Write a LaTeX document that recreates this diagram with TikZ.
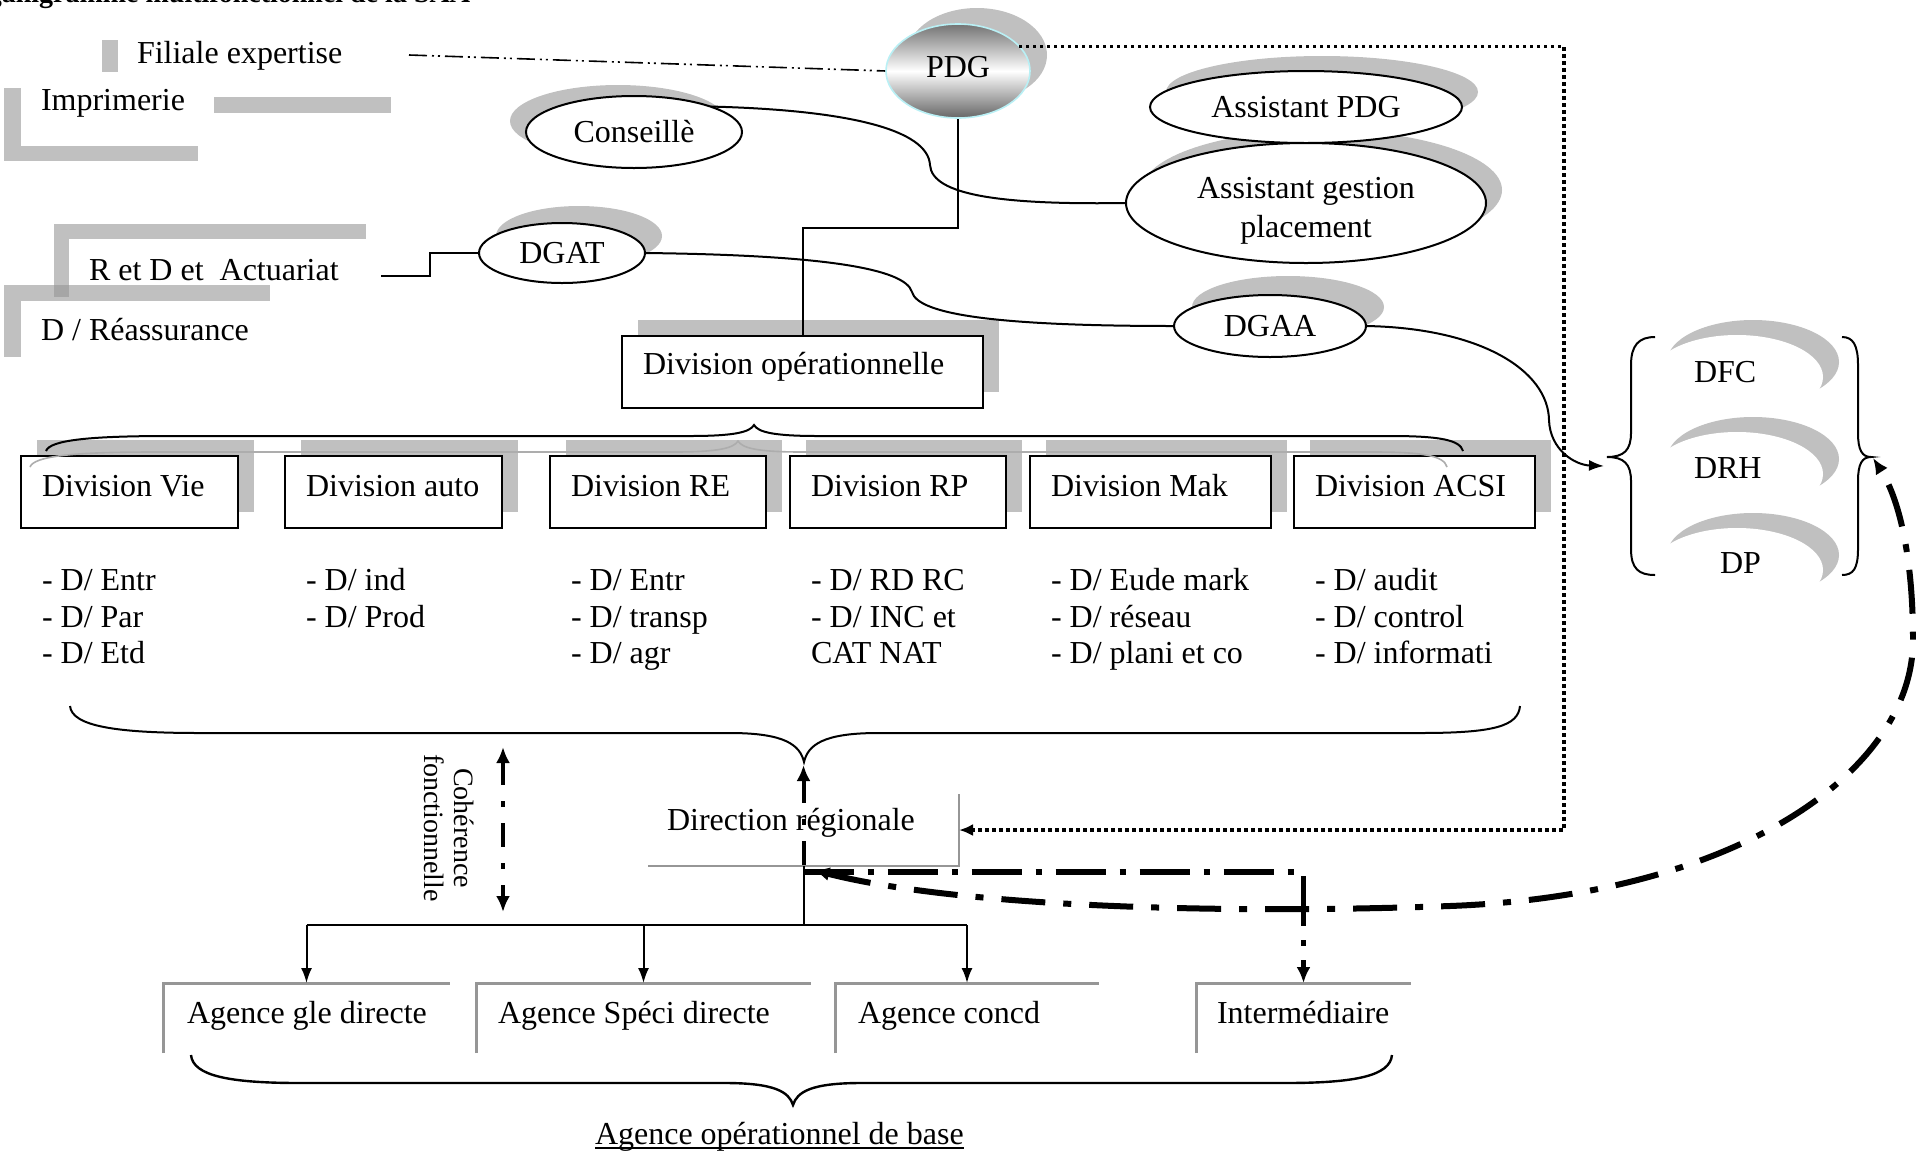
\documentclass[tikz,border=0pt]{standalone}
\usepackage{fontspec}
\setmainfont{Liberation Serif}
\usetikzlibrary{arrows.meta,shapes.geometric}
\definecolor{shadowgray}{RGB}{192,192,192}
\definecolor{overlapgray}{RGB}{166,166,166}
\definecolor{edgegray}{RGB}{150,150,150}
\definecolor{pdgedge}{RGB}{185,240,245}
\pgfdeclarelayer{shadows}
\pgfdeclarelayer{links}
\pgfsetlayers{shadows,links,main}
\tikzset{
  boldtip/.tip={Latex[length=8pt,width=7pt]},
  thintip/.tip={Latex[length=7.5pt,width=5.5pt]},
  dottip/.tip={Latex[length=7pt,width=6pt]}
}
\begin{document}
\begin{tikzpicture}[x=0.5pt,y=-0.5pt,
  every node/.style={font=\fontsize{16}{18}\selectfont, inner sep=0pt, outer sep=0pt},
  lbl/.style={anchor=base west},
  oval/.style={ellipse, draw, line width=1pt, fill=white},
  ovalshadow/.style={ellipse, fill=shadowgray},
  whiteoval/.style={ellipse, fill=white, minimum width=86pt, minimum height=42pt},
  divbox/.style={draw, line width=1pt, fill=white, anchor=north west, minimum height=36pt},
  boxshadow/.style={fill=shadowgray, anchor=north west, minimum height=36pt},
  agbox/.style={anchor=north west, minimum height=35pt},
  link/.style={line width=1pt},
  bracepen/.style={line width=1pt},
  dotline/.style={line width=1.6pt, dash pattern=on 1.6pt off 1.9pt},
  dashdotdot/.style={line width=0.8pt, dash pattern=on 9pt off 2.5pt on 1pt off 2pt on 1pt off 2.5pt},
  dashmid/.style={line width=2pt, dash pattern=on 12pt off 8pt on 3pt off 8pt},
  dashbold/.style={line width=2.6pt, dash pattern=on 25pt off 7pt on 3pt off 7pt},
  dashheavy/.style={line width=3pt, dash pattern=on 22pt off 9pt on 4pt off 9pt}
]
\useasboundingbox (0,0) rectangle (1916,1152);

% heading, cut by the page edge
\node[font=\fontsize{14}{16}\selectfont\bfseries, anchor=base east] (title) at (470,2) {Organigramme multifonctionnel de la SAA};

% grey frame remnants on the left
\fill[shadowgray] (102,40) rectangle (118,72);
\fill[shadowgray] (4,88) rectangle (21,161);
\fill[shadowgray] (4,146) rectangle (198,161);
\fill[shadowgray] (214,97) rectangle (391,113);
\fill[shadowgray] (54,224) rectangle (366,239);
\fill[shadowgray] (54,224) rectangle (69,297);
\fill[shadowgray] (4,285) rectangle (270,301);
\fill[shadowgray] (4,285) rectangle (21,357);
\fill[overlapgray] (54,285) rectangle (69,297);

\node[lbl] (filiale) at (137,63) {Filiale expertise};
\node[lbl] (imprim) at (41,110) {Imprimerie};
\node[lbl] (rdact) at (89,280) {R et D et\ \ Actuariat};
\node[lbl] (reass) at (41,340) {D / Réassurance};

% ovals
\node[ellipse, draw=pdgedge, line width=0.8pt, top color=black!55, bottom color=black!60, middle color=white,
      minimum width=72pt, minimum height=47pt] (pdg) at (958,71) {};
\node (pdgtxt) at (958,67) {PDG};
\node[oval, minimum width=108pt, minimum height=36pt] (cons) at (634,132) {Conseillè};
\node[oval, minimum width=156pt, minimum height=36pt] (apdg) at (1306,107) {Assistant PDG};
\node[oval, minimum width=180pt, minimum height=60pt] (agp) at (1306,203) {};
\node[align=center, font=\fontsize{16}{19.5}\selectfont] (agptxt) at (1306,211) {Assistant gestion\\placement};
\node[oval, minimum width=83pt, minimum height=30pt] (dgat) at (562,253) {DGAT};
\node[oval, minimum width=96pt, minimum height=31pt] (dgaa) at (1270,326) {DGAA};

% operational division and its units
\node[divbox, minimum width=180.5pt] (divop) at (622,336) {};
\node[lbl] (divoptxt) at (643,374) {Division opérationnelle};

\node[divbox, minimum width=108.5pt] (dvie) at (21,456) {};
\node[divbox, minimum width=108.5pt] (dauto) at (285,456) {};
\node[divbox, minimum width=108pt] (dre) at (550,456) {};
\node[divbox, minimum width=108pt] (drp) at (790,456) {};
\node[divbox, minimum width=120.5pt] (dmak) at (1030,456) {};
\node[divbox, minimum width=120.5pt] (dacsi) at (1294,456) {};
\node[lbl] (tvie) at (42,496) {Division Vie};
\node[lbl] (tauto) at (306,496) {Division auto};
\node[lbl] (tre) at (571,496) {Division RE};
\node[lbl] (trp) at (811,496) {Division RP};
\node[lbl] (tmak) at (1051,496) {Division Mak};
\node[lbl] (tacsi) at (1315,496) {Division ACSI};

% departments under each division
\node[lbl] (vie1) at (42,590) {- D/ Entr};
\node[lbl] (vie2) at (42,627) {- D/ Par};
\node[lbl] (vie3) at (42,663) {- D/ Etd};
\node[lbl] (auto1) at (306,590) {- D/ ind};
\node[lbl] (auto2) at (306,627) {- D/ Prod};
\node[lbl] (re1) at (571,590) {- D/ Entr};
\node[lbl] (re2) at (571,627) {- D/ transp};
\node[lbl] (re3) at (571,663) {- D/ agr};
\node[lbl] (rp1) at (811,590) {- D/ RD RC};
\node[lbl] (rp2) at (811,627) {- D/ INC et};
\node[lbl] (rp3) at (811,663) {CAT NAT};
\node[lbl] (mak1) at (1051,590) {- D/ Eude mark};
\node[lbl] (mak2) at (1051,627) {- D/ réseau};
\node[lbl] (mak3) at (1051,663) {- D/ plani et co};
\node[lbl] (acsi1) at (1315,590) {- D/ audit};
\node[lbl] (acsi2) at (1315,627) {- D/ control};
\node[lbl] (acsi3) at (1315,663) {- D/ informati};

% support directions on the right
\node[ovalshadow, minimum width=86pt, minimum height=42pt] (dfcsh) at (1753,362) {};
\node[whiteoval] (dfcov) at (1737,377) {};
\node[ovalshadow, minimum width=86pt, minimum height=42pt] (drhsh) at (1753,459) {};
\node[whiteoval] (drhov) at (1737,474) {};
\node[ovalshadow, minimum width=86pt, minimum height=42pt] (dpsh) at (1753,555) {};
\node[whiteoval] (dpov) at (1737,570) {};
\node[lbl] (dfc) at (1694,382) {DFC};
\node[lbl] (drh) at (1694,478) {DRH};
\node[lbl] (dp) at (1720,573) {DP};

% regional direction
\node[minimum width=155.5pt, minimum height=36pt] (dr) at (803.5,830) {};
\draw[edgegray, line width=1pt] (dr.north east) -- (dr.south east) -- (dr.south west);
\node[lbl] (drtxt) at (667,830) {Direction régionale};

% agencies
\node[agbox, minimum width=143.5pt] (ag1) at (163,983) {};
\node[agbox, minimum width=167.5pt] (ag2) at (476,983) {};
\node[agbox, minimum width=132pt] (ag3) at (835,983) {};
\node[agbox, minimum width=107.5pt] (ag4) at (1196,983) {};
\foreach \a in {ag1,ag2,ag3,ag4}
  \draw[edgegray, line width=1.5pt] (\a.south west) -- (\a.north west) -- (\a.north east);
\node[lbl] (tag1) at (187,1023) {Agence gle directe};
\node[lbl] (tag2) at (498,1023) {Agence Spéci directe};
\node[lbl] (tag3) at (858,1023) {Agence concd};
\node[lbl] (tag4) at (1217,1023) {Intermédiaire};
\node[lbl] (aob) at (595,1144) {Agence opérationnel de base};
\draw[line width=0.8pt] ([yshift=-2pt]aob.base west) -- ([yshift=-2pt]aob.base east);

\node[rotate=-90, align=center, font=\fontsize{14}{15}\selectfont] (coh) at (449,828) {Cohérence\\fonctionnelle};

% shadows
\begin{pgfonlayer}{shadows}
\node[ovalshadow, minimum width=70pt, minimum height=47pt] (pdgsh) at (977,55) {};
\node[ovalshadow, minimum width=108pt, minimum height=36pt] (conssh) at (618,121) {};
\node[ovalshadow, minimum width=156pt, minimum height=36pt] (apdgsh) at (1322,92) {};
\node[ovalshadow, minimum width=180pt, minimum height=60pt] (agpsh) at (1322,190) {};
\node[ovalshadow, minimum width=83pt, minimum height=30pt] (dgatsh) at (579,236) {};
\node[ovalshadow, minimum width=96pt, minimum height=31pt] (dgaash) at (1288,307) {};
\node[boxshadow, minimum width=180.5pt] (divopsh) at (638,320) {};
\node[boxshadow, minimum width=108.5pt] (dviesh) at (37,440) {};
\node[boxshadow, minimum width=108.5pt] (dautosh) at (301,440) {};
\node[boxshadow, minimum width=108pt] (dresh) at (566,440) {};
\node[boxshadow, minimum width=108pt] (drpsh) at (806,440) {};
\node[boxshadow, minimum width=120.5pt] (dmaksh) at (1046,440) {};
\node[boxshadow, minimum width=120.5pt] (dacsish) at (1310,440) {};
\end{pgfonlayer}

% connectors under the ovals and boxes
\begin{pgfonlayer}{links}
\coordinate (filend) at (409,55);
\draw[dashdotdot] (filend) -- (pdg.west);
\draw[link] (pdg.south) -- ++(0,110) -| (divop.north);
\draw[link] (cons.north east) .. controls (850,110) and (928,130) .. (930,165)
                             .. controls (932,195) and (1000,205) .. (agp.west);
\coordinate (rdend) at (381,276);
\draw[link] (rdend) -- ++(49,0) |- (dgat.west);
\draw[link] (dgat.east) .. controls (820,255) and (905,268) .. (912,292)
                        .. controls (918,315) and (1000,326) .. (dgaa.west);
\end{pgfonlayer}

% braces
\draw[bracepen] (46,451) .. controls (50,440) and (90,436) .. (170,436) -- (690,436)
  .. controls (735,436) and (750,432) .. (754,425) .. controls (758,432) and (773,436) .. (818,436)
  -- (1390,436) .. controls (1440,436) and (1460,440) .. (1463,451);
\draw[black!32, line width=0.8pt, shift={(-16,16)}] (46,451) .. controls (50,440) and (90,436) .. (170,436) -- (690,436)
  .. controls (735,436) and (750,432) .. (754,425) .. controls (758,432) and (773,436) .. (818,436)
  -- (1390,436) .. controls (1440,436) and (1460,440) .. (1463,451);
\draw[bracepen] (70,706) .. controls (72,726) and (115,733) .. (200,733) -- (730,733)
  .. controls (785,733) and (800,745) .. (804,762) .. controls (808,745) and (823,733) .. (878,733)
  -- (1420,733) .. controls (1495,733) and (1518,726) .. (1520,706);
\draw[bracepen, line width=1.2pt] (191,1055) .. controls (193,1076) and (230,1083) .. (300,1083) -- (725,1083)
  .. controls (775,1083) and (789,1092) .. (793,1105) .. controls (797,1092) and (811,1083) .. (861,1083)
  -- (1285,1083) .. controls (1355,1083) and (1390,1076) .. (1392,1055);
\draw[bracepen] (1655,337) .. controls (1639,337) and (1631,345) .. (1631,365) -- (1631,433)
  .. controls (1631,450) and (1624,457) .. (1607,457) .. controls (1624,457) and (1631,464) .. (1631,481)
  -- (1631,549) .. controls (1631,569) and (1639,575) .. (1655,575);
\draw[bracepen] (1842,337) .. controls (1853,337) and (1858,345) .. (1858,365) -- (1858,433)
  .. controls (1858,450) and (1862,457) .. (1871,457) .. controls (1862,457) and (1858,464) .. (1858,481)
  -- (1858,549) .. controls (1858,569) and (1853,575) .. (1842,575);
\coordinate (lbtip) at (1604,466);
\coordinate (rbcusp) at (1873,458);
\coordinate (lowcusp) at (803.5,765);

% PDG dotted authority line to the regional direction
\coordinate (dotcorner) at (1564,830);
\draw[dotline, -dottip] (pdg.22) -| (dotcorner) -- (dr.east);

% DGAA to the support directions
\draw[link, -thintip] (dgaa.east) .. controls (1480,328) and (1548,370) .. (1549,420)
                      .. controls (1550,450) and (1575,465) .. (lbtip);

% regional direction to the agencies
\coordinate (bus) at (803.5,925);
\draw[link] (dr.south) -- (bus);
\draw[line width=1.4pt] (ag1.north |- bus) -- (ag3.north |- bus);
\foreach \a in {ag1,ag2,ag3}
  \draw[link, -thintip] (\a.north |- bus) -- (\a.north);

% functional links
\draw[dashmid, boldtip-] (lowcusp) -- ([yshift=-6pt]dr.south);
\coordinate (coh1) at (503,747);
\coordinate (coh2) at (503,912);
\draw[dashmid, boldtip-boldtip] (coh1) -- (coh2);
\draw[dashbold, -boldtip] ([yshift=-3pt]dr.south) -| (ag4.north);
\draw[dashheavy, boldtip-boldtip] ([xshift=5pt,yshift=-2pt]dr.south)
   .. controls (950,905) and (1200,915) .. (1450,906)
   .. controls (1740,895) and (1913,770) .. (1913,640)
   .. controls (1913,560) and (1900,500) .. (rbcusp);
\end{tikzpicture}
\end{document}
